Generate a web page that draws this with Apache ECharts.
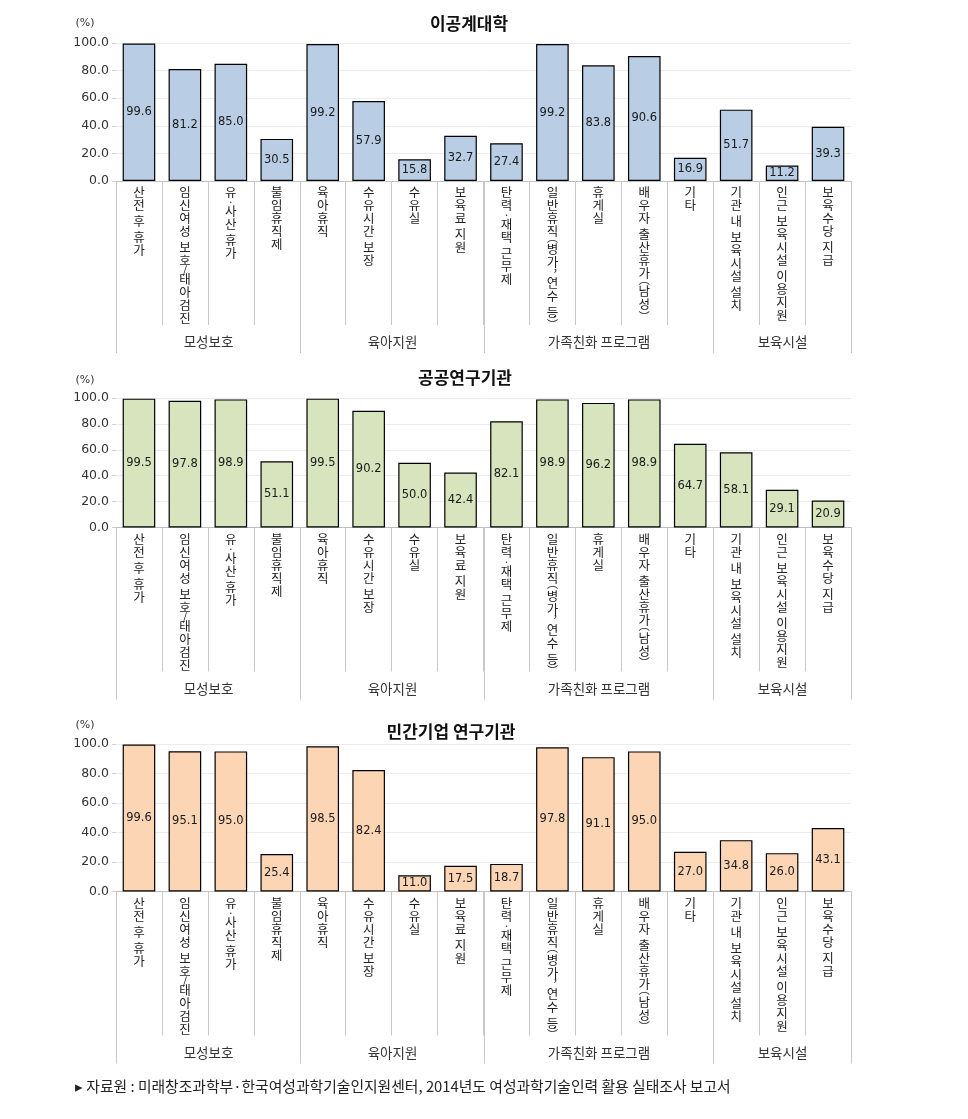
<!DOCTYPE html>
<html><head><meta charset="utf-8">
<script src="https://cdn.jsdelivr.net/npm/echarts@6/dist/echarts.min.js"></script>
<style>html,body{margin:0;padding:0;background:#fff}#c{width:968px;height:1119px}</style>
</head><body><div id="c"></div>
<script>
const categories = ['산전 후 휴가','임신여성 보호/태아검진','유·사산 휴가','불임휴직제','육아휴직','수유시간 보장','수유실','보육료 지원','탄력·재택 근무제','일반휴직(병가, 연수 등)','휴게실','배우자 출산휴가(남성)','기타','기관 내 보육시설 설치','인근 보육시설 이용지원','보육수당 지급'];
const groupNames = ['모성보호','육아지원','가족친화 프로그램','보육시설'];
const groupStart = [0, 4, 8, 13];
const groupEnd = [3, 7, 12, 15];
const panelTitles = ['이공계대학','공공연구기관','민간기업 연구기관'];
const valuesUniversity = [99.6, 81.2, 85.0, 30.5, 99.2, 57.9, 15.8, 32.7, 27.4, 99.2, 83.8, 90.6, 16.9, 51.7, 11.2, 39.3];
const valuesPublic = [99.5, 97.8, 98.9, 51.1, 99.5, 90.2, 50.0, 42.4, 82.1, 98.9, 96.2, 98.9, 64.7, 58.1, 29.1, 20.9];
const valuesPrivate = [99.6, 95.1, 95.0, 25.4, 98.5, 82.4, 11.0, 17.5, 18.7, 97.8, 91.1, 95.0, 27.0, 34.8, 26.0, 43.1];
const yMin = 0, yMax = 100, yStep = 20;
const unitLabel = '(%)';
const sourceNote = '▸ 자료원 : 미래창조과학부·한국여성과학기술인지원센터, 2014년도 여성과학기술인력 활용 실태조사 보고서';

const KR = '"Noto Sans CJK KR", "Noto Sans", sans-serif';
const NUM = '"DejaVu Sans", Verdana, sans-serif';
const panels = [
  {values: valuesUniversity, color: '#b9cde5', top: 43, height: 138, titleX: 469, titleY: 24, unitY: 23},
  {values: valuesPublic, color: '#d7e4bd', top: 398, height: 129.5, titleX: 465, titleY: 378, unitY: 380},
  {values: valuesPrivate, color: '#fcd5b5', top: 744, height: 147.5, titleX: 451, titleY: 732, unitY: 725}
];

const OPEN = {'(': '︵'}, CLOSE = {')': '︶', ',': '︐'};
function vertical(s) {
  return Array.from(s).map(ch => {
    if (ch === ' ') return '{s| }';
    if (OPEN[ch]) return '{po|' + OPEN[ch] + '}';
    if (CLOSE[ch]) return '{pc|' + CLOSE[ch] + '}';
    if (ch === '·' || ch === '/') return '{p|' + ch + '}';
    return '{c|' + ch + '}';
  }).join('\n');
}

const grids = [], xAxes = [], yAxes = [], series = [], graphics = [];
panels.forEach((p, i) => {
  grids.push({left: 116, right: 117, top: p.top, height: p.height, containLabel: false});
  xAxes.push({
    type: 'category', gridIndex: i, data: categories,
    axisLine: {show: true, lineStyle: {color: '#bfbfbf', width: 1}},
    axisTick: {show: true, alignWithLabel: false, interval: 0, length: 144, lineStyle: {color: '#c8c8c8'}},
    axisLabel: {
      interval: 0, margin: 5, formatter: vertical,
      rich: {
        c: {fontSize: 12.5, lineHeight: 13, fontFamily: KR, color: '#222'},
        s: {fontSize: 3, lineHeight: 3},
        p: {fontSize: 11, lineHeight: 6, fontFamily: KR, color: '#222'},
        po: {fontSize: 11, lineHeight: 5, fontFamily: KR, color: '#222', verticalAlign: 'bottom'},
        pc: {fontSize: 11, lineHeight: 5, fontFamily: KR, color: '#222', verticalAlign: 'top'}
      }
    },
    splitLine: {show: false}
  });
  yAxes.push({
    type: 'value', gridIndex: i, min: yMin, max: yMax, interval: yStep,
    axisLine: {show: false},
    axisTick: {show: true, length: 4, lineStyle: {color: '#d0d0d0'}},
    axisLabel: {formatter: v => v.toFixed(1), fontFamily: NUM, fontSize: 12.5, color: '#333', margin: 7},
    splitLine: {show: true, lineStyle: {color: '#ececec', width: 1}}
  });
  series.push({
    type: 'bar', xAxisIndex: i, yAxisIndex: i, data: p.values, barWidth: '71%',
    itemStyle: {color: p.color, borderColor: '#000', borderWidth: 1.2},
    label: {show: true, position: 'inside', formatter: d => d.value.toFixed(1), fontFamily: NUM, fontSize: 11.5, color: '#1a1a1a'},
    z: 3
  });
  series.push({
    type: 'custom', xAxisIndex: i, yAxisIndex: i, silent: true, clip: false, z: 2,
    data: groupNames.map((n, k) => [groupStart[k], groupEnd[k], 0]),
    encode: {x: [0, 1], y: 2},
    renderItem: (params, api) => {
      const k = params.dataIndex;
      const a = api.coord([api.value(0), 0]);
      const b = api.coord([api.value(1), 0]);
      const bw = api.size([1, 0])[0];
      const x0 = Math.round(a[0] - bw / 2) + 0.5, x1 = Math.round(b[0] + bw / 2) + 0.5, y = a[1];
      return {type: 'group', children: [
        {type: 'line', shape: {x1: x0, y1: y, x2: x0, y2: y + 172}, style: {stroke: '#c8c8c8', lineWidth: 1}},
        {type: 'line', shape: {x1: x1, y1: y, x2: x1, y2: y + 172}, style: {stroke: '#c8c8c8', lineWidth: 1}},
        {type: 'text', style: {text: groupNames[k], x: (x0 + x1) / 2, y: y + 161, align: 'center', verticalAlign: 'middle',
          font: '13.5px ' + KR, fill: '#333'}}
      ]};
    }
  });
  graphics.push({type: 'text', x: p.titleX, y: p.titleY, style: {text: panelTitles[i], font: 'bold 17px ' + KR, fill: '#111', align: 'center', verticalAlign: 'middle'}});
  graphics.push({type: 'text', x: 85, y: p.unitY, style: {text: unitLabel, font: '11px ' + NUM, fill: '#333', align: 'center', verticalAlign: 'middle'}});
});
graphics.push({type: 'text', x: 75, y: 1086, style: {text: sourceNote, font: '14.8px ' + KR, fill: '#222', align: 'left', verticalAlign: 'middle'}});

const chart = echarts.init(document.getElementById('c'), null, {renderer: 'canvas'});
chart.setOption({
  animation: false,
  backgroundColor: '#fff',
  grid: grids, xAxis: xAxes, yAxis: yAxes, series: series, graphic: graphics
});
</script></body></html>
